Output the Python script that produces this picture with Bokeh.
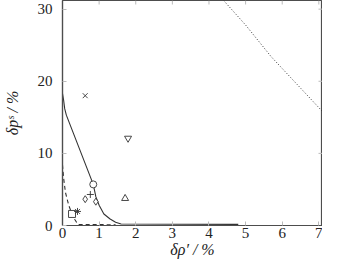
import math
from bokeh.plotting import figure
from bokeh.models import Range1d, FixedTicker
from bokeh.embed import file_html
from bokeh.resources import INLINE

# solid boundary curve
solid_x = [0.0, 0.03, 0.06, 0.105, 0.84, 0.91, 1.0, 1.13, 1.3, 1.45, 1.6, 4.8]
solid_y = [18.3, 17.4, 16.2, 15.3, 5.7, 4.0, 2.8, 1.6, 0.9, 0.45, 0.2, 0.15]
# dashed boundary curve
dash_x = [0.0, 0.03, 0.08, 0.17, 0.26, 0.34, 0.42, 1.45]
dash_y = [8.4, 6.6, 4.6, 2.8, 1.6, 0.8, 0.15, 0.1]
# dotted line
dot_x = [4.4, 5.0, 5.7, 6.4, 7.1]
dot_y = [31.2, 27.8, 23.4, 19.6, 15.8]
# individual markers
pts = {
    "x": ([0.62], [18.0]),
    "inverted_triangle": ([1.79], [12.1]),
    "circle": ([0.84], [5.7]),
    "triangle": ([1.71], [3.75]),
    "diamond": ([0.62, 0.91], [3.65, 3.3]),
    "cross": ([0.76], [4.3]),
    "square": ([0.26], [1.6]),
    "asterisk": ([0.41], [1.95]),
}

x_ticks = [0, 1, 2, 3, 4, 5, 6, 7]
y_ticks = [0, 10, 20, 30]
x_max = 7.1
y_max = 31.2

ink = "#333333"
axis_col = "#4d4d4d"
tick_col = "#bbbbbb"
font = "Liberation Serif"

p = figure(width=322, height=260, output_backend="svg", toolbar_location=None,
           x_range=Range1d(0, x_max), y_range=Range1d(0, y_max),
           min_border_left=54, min_border_right=0, min_border_top=0, min_border_bottom=0)
p.grid.visible = False
p.outline_line_color = axis_col
p.outline_line_width = 1.2
p.background_fill_color = "white"
p.border_fill_color = "white"

for ax, ticks in ((p.xaxis[0], x_ticks), (p.yaxis[0], y_ticks)):
    ax.ticker = FixedTicker(ticks=ticks)
    ax.major_tick_in = 4
    ax.major_tick_out = 0
    ax.minor_tick_line_color = None
    ax.major_tick_line_color = tick_col
    ax.axis_line_color = axis_col
    ax.axis_line_width = 1.2
    ax.major_label_text_font = font
    ax.major_label_text_font_size = "15px"
    ax.major_label_text_color = "#222222"
    ax.axis_label_text_font = font
    ax.axis_label_text_font_size = "16px"
    ax.axis_label_text_font_style = "italic"
    ax.axis_label_text_color = "#222222"

p.xaxis.axis_label = "δρ′ / %"
p.yaxis.axis_label = "δpˢ / %"
p.xaxis.major_label_standoff = 2
p.yaxis.major_label_standoff = 10
p.xaxis.axis_label_standoff = 0
p.yaxis.axis_label_standoff = 14

# mirrored inward ticks on top and right frame edges
p.ray(x=x_ticks, y=[y_max] * len(x_ticks), length=4, length_units="screen",
      angle=-math.pi / 2, line_color=tick_col, line_width=1)
p.ray(x=[x_max] * len(y_ticks), y=y_ticks, length=4, length_units="screen",
      angle=math.pi, line_color=tick_col, line_width=1)

p.line(solid_x, solid_y, line_color=ink, line_width=1.1)
p.line(dash_x, dash_y, line_color=ink, line_width=1.1, line_dash="4 3")
p.line(dot_x, dot_y, line_color=ink, line_width=1.0, line_dash="1 2")

for m, (xs, ys) in pts.items():
    p.scatter(xs, ys, marker=m, size=7, fill_color="white", line_color=ink, line_width=0.9)

open("out.html", "w").write(file_html(p, INLINE))
